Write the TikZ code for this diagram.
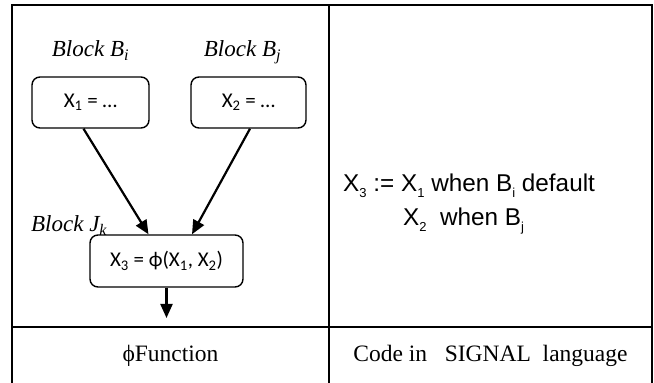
\documentclass[tikz,border=0pt]{standalone}
\usepackage{fontspec}
\setmainfont{Liberation Serif}
\newfontfamily\boxfont{Carlito}
\newfontfamily\codefont{Liberation Sans}
\usetikzlibrary{positioning,arrows.meta}

\tikzset{
  blockbox/.style={draw, line width=1.4pt, rounded corners=8pt,
    minimum height=51pt, font=\boxfont\fontsize{21}{24}\selectfont},
  blocklabel/.style={font=\itshape\fontsize{23}{26}\selectfont, inner sep=0pt},
  flow/.style={line width=2.2pt, -{Triangle[length=14pt,width=12pt]}},
  cellrule/.style={line width=2.4pt},
  celltext/.style={font=\fontsize{23.5}{26}\selectfont, inner sep=0pt},
  codetext/.style={font=\codefont\fontsize{24.3}{27}\selectfont, inner sep=0pt, anchor=base west}
}

%% lowered subscript for the SIGNAL line
\newcommand\lowsub[1]{\raisebox{-6pt}{\fontsize{13}{13}\selectfont #1}}

\begin{document}
\begin{tikzpicture}[x=1pt,y=1pt]

  \useasboundingbox (0,0) rectangle (654,383);

  %% table frame
  \draw[cellrule] (12,0) -- (12,378) -- (652,378) -- (652,0);
  \draw[cellrule] (329,0) -- (329,378);
  \draw[cellrule] (12,56) -- (652,56);

  %% the three blocks
  \node[blockbox, minimum width=117pt] (bi) at (90.5,280.5) {X\textsubscript{1} = …};
  \node[blockbox, minimum width=115pt] (bj) at (248.5,280.5) {X\textsubscript{2} = …};
  \node[blockbox, minimum width=153pt, minimum height=52pt] (jk) at (166.5,122)
    {X\textsubscript{3} = ϕ(X\textsubscript{1}, X\textsubscript{2})};

  \node[blocklabel, anchor=base] (lbi) at ([yshift=20pt]bi.north) {Block B\textsubscript{\itshape i}};
  \node[blocklabel, anchor=base] (lbj) at ([xshift=-6pt,yshift=20pt]bj.north) {Block B\textsubscript{\itshape j}};
  \node[blocklabel, anchor=base east] (ljk) at ([xshift=18pt,yshift=3pt]jk.north west)
    {Block J\textsubscript{\itshape k}};

  \coordinate (out) at (166.5,65);

  \draw[flow] ([xshift=-7pt]bi.south) -- ([xshift=-18pt]jk.north); %% Bi -> Jk
  \draw[flow] ([xshift=1.5pt]bj.south) -- ([xshift=25.5pt]jk.north); %% Bj -> Jk
  \draw[flow] (jk.south) -- (out);

  %% SIGNAL code
  \node[codetext] (eq1) at (343,191)
    {X\lowsub{3} := X\lowsub{1} when B\lowsub{i} default};
  \node[codetext] (eq2) at (403,157)
    {X\lowsub{2}\ \ when B\lowsub{j}};

  %% captions
  \node[celltext, anchor=base] (capl) at (170.5,21) {ϕFunction};
  \node[celltext, anchor=base] (capr) at (490.5,21) {Code in\ \ \ SIGNAL\ \ language};

\end{tikzpicture}
\end{document}
